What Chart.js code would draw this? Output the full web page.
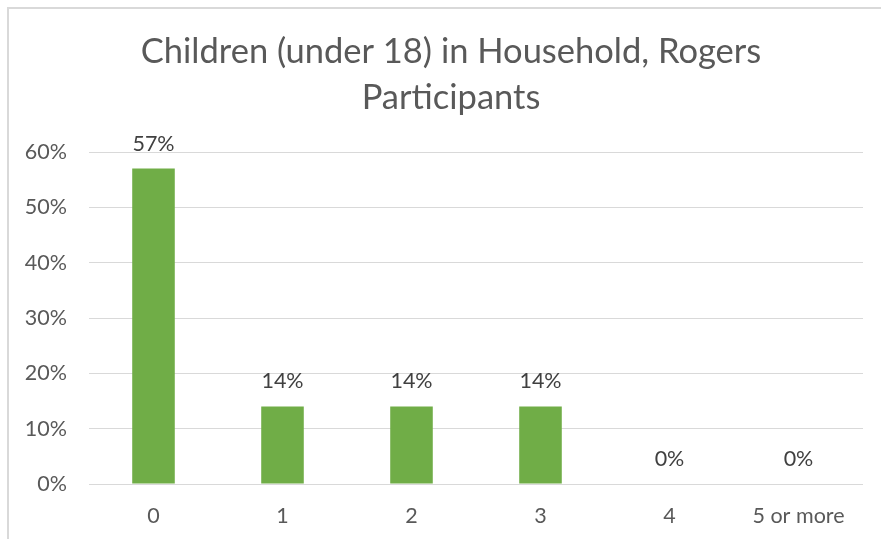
<!DOCTYPE html>
<html>
<head>
<meta charset="utf-8">
<script src="https://cdn.jsdelivr.net/npm/chart.js@4/dist/chart.umd.min.js"></script>
<style>
  body { margin: 0; background: #fff; }
  canvas { display: block; }
</style>
</head>
<body>
<canvas id="bar-chart" width="881" height="539"></canvas>
<script>
var categories = ['0', '1', '2', '3', '4', '5 or more'];
var shares = [57, 14, 14, 14, 0, 0];
var yTicks = [0, 10, 20, 30, 40, 50, 60];
var titleLines = ['Children (under 18) in Household, Rogers', 'Participants'];

var fontName = 'Lato, "Open Sans", sans-serif';

// light frame round the whole chart, plus the two-line heading
var framePlugin = {
  id: 'frame',
  beforeDraw: function(chart) {
    var ctx = chart.ctx;
    ctx.save();
    ctx.strokeStyle = '#d9d9d9';
    ctx.lineWidth = 2;
    ctx.beginPath();
    ctx.moveTo(8, chart.height);
    ctx.lineTo(8, 8);
    ctx.lineTo(chart.width, 8);
    ctx.stroke();

    ctx.fillStyle = '#595959';
    ctx.font = '34.5px ' + fontName;
    ctx.textAlign = 'center';
    ctx.textBaseline = 'middle';
    titleLines.forEach(function(line, i) {
      ctx.fillText(line, 451, 52 + i * 46);
    });
    ctx.restore();
  }
};

// percentage label above each bar
var valueLabels = {
  id: 'valueLabels',
  afterDatasetsDraw: function(chart) {
    var ctx = chart.ctx;
    var meta = chart.getDatasetMeta(0);
    ctx.save();
    ctx.fillStyle = '#404040';
    ctx.font = '21.5px ' + fontName;
    ctx.textAlign = 'center';
    ctx.textBaseline = 'middle';
    meta.data.forEach(function(bar, i) {
      ctx.fillText(shares[i] + '%', bar.x, bar.y - 25);
    });
    ctx.restore();
  }
};

new Chart(document.getElementById('bar-chart'), {
  type: 'bar',
  data: {
    labels: categories,
    datasets: [{
      data: shares,
      backgroundColor: '#70ad47',
      barPercentage: 0.33,
      categoryPercentage: 1
    }]
  },
  options: {
    responsive: false,
    animation: false,
    layout: {
      padding: { left: 10, right: 18, top: 152, bottom: 0 }
    },
    plugins: {
      legend: { display: false },
      tooltip: { enabled: false },
      title: { display: false }
    },
    scales: {
      x: {
        grid: { display: false },
        border: { display: false },
        ticks: {
          color: '#595959',
          padding: 11,
          font: { family: fontName, size: 21.5 }
        },
        afterFit: function(scale) { scale.height = 55; }
      },
      y: {
        min: 0,
        max: 60,
        afterBuildTicks: function(scale) {
          scale.ticks = yTicks.map(function(v) { return { value: v }; });
        },
        grid: { color: '#d9d9d9', lineWidth: 1, drawTicks: false },
        border: { display: false },
        ticks: {
          color: '#595959',
          padding: 22,
          font: { family: fontName, size: 21.5 },
          callback: function(v) { return v + '%'; }
        },
        afterFit: function(scale) { scale.width = 79; }
      }
    }
  },
  plugins: [framePlugin, valueLabels]
});
</script>
</body>
</html>
